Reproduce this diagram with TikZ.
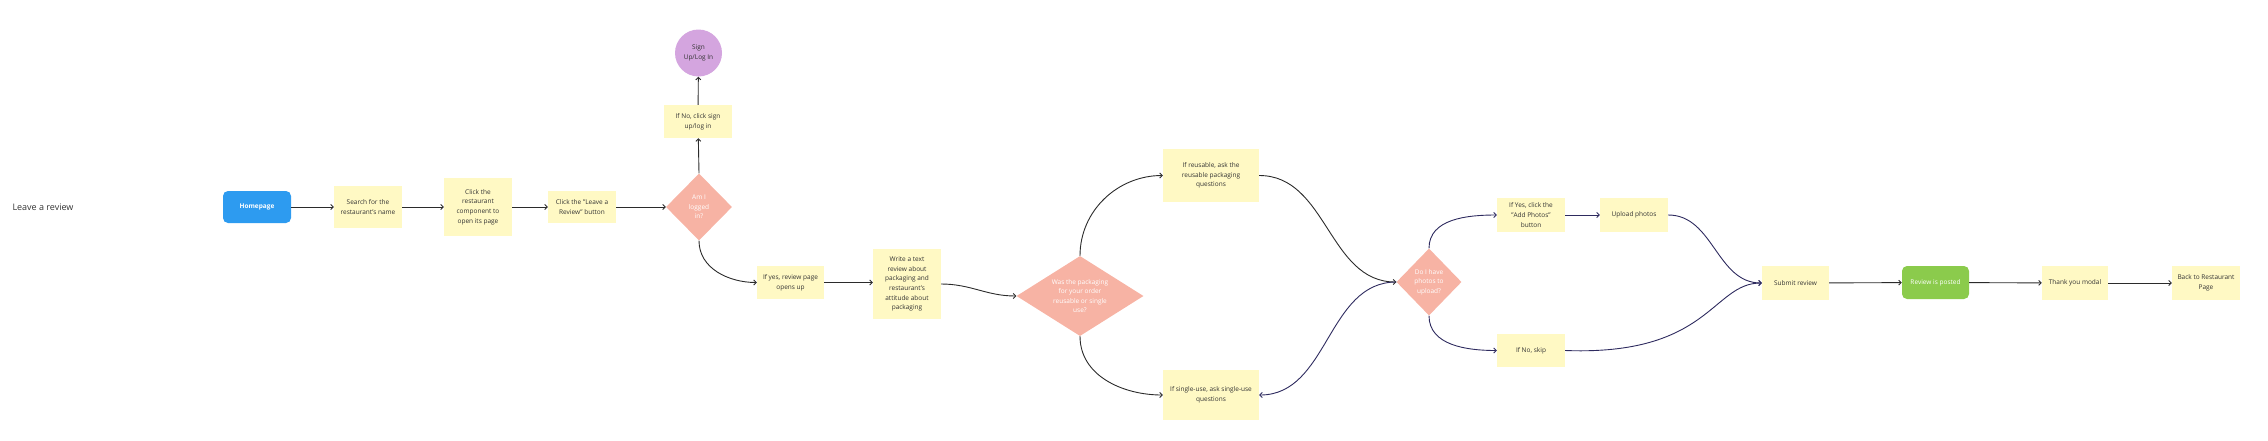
\documentclass[tikz,border=0pt]{standalone}
\usepackage{fontspec}
\setmainfont{Open Sans}
\usetikzlibrary{shapes.geometric,arrows.meta}
\definecolor{stickyc}{HTML}{FFF9C4}
\definecolor{salmon}{HTML}{F7B3A4}
\definecolor{purp}{HTML}{D4A5DF}
\definecolor{bluec}{HTML}{2D9BF0}
\definecolor{greenc}{HTML}{8BCB4C}
\definecolor{txt}{HTML}{333333}
\definecolor{linec}{HTML}{2B2B2B}
\definecolor{navyc}{HTML}{2E2B5F}
\tikzset{
  sticky/.style={rectangle, fill=stickyc, text=txt, minimum width=68pt, align=center,
    font=\fontsize{6.5}{9.6}\selectfont, inner sep=2pt},
  dia/.style={diamond, fill=salmon, inner sep=0pt},
  diatext/.style={text=white, align=center, font=\fontsize{6.5}{9.6}\selectfont, inner sep=0pt},
  pill/.style={rectangle, rounded corners=5pt, minimum width=68pt, minimum height=33pt, text=white, align=center},
  conn/.style={draw=linec, line width=0.9pt, -{Straight Barb[length=2.5pt,width=5pt]}},
  nconn/.style={conn, draw=navyc}
}
\begin{document}
\begin{tikzpicture}[x=1pt,y=1pt]
\useasboundingbox (0,0) rectangle (2268,-440);
\node[text=txt, font=\fontsize{9}{11}\selectfont] (title) at (43,-207) {Leave a review};
\node[pill, fill=bluec, minimum height=32pt, font=\fontsize{6.5}{9}\selectfont\bfseries] (home) at (257,-207) {Homepage};
\node[sticky, minimum height=42pt] (search) at (368,-207) {Search for the\\restaurant's name};
\node[sticky, minimum height=58pt] (click) at (478,-207) {Click the\\restaurant\\component to\\open its page};
\node[sticky, minimum height=32pt] (leave) at (582,-207) {Click the "Leave a\\Review" button};
\node[dia, minimum width=66pt, minimum height=67pt, label={[diatext]center:Am I\\logged\\in?}] (logged) at (699,-207) {};
\node[sticky, minimum height=33pt] (ifno) at (698,-121.5) {If No, click sign\\up/log in};
\node[circle, fill=purp, minimum size=47pt, inner sep=0pt, text=txt, align=center, font=\fontsize{6.5}{9.6}\selectfont] (sign) at (698.5,-53) {Sign\\Up/Log In};
\node[sticky, minimum width=67pt, minimum height=33pt] (ifyes) at (790.5,-282.5) {If yes, review page\\opens up};
\node[sticky, minimum height=70pt] (write) at (907,-284) {Write a text\\review about\\packaging and\\restaurant's\\attitude about\\packaging};
\node[dia, minimum width=127pt, minimum height=80pt, label={[diatext]center:Was the packaging\\for your order\\reusable or single\\use?}] (pack) at (1080,-296) {};
\node[sticky, minimum width=96pt, minimum height=53pt] (reuse) at (1211,-175.5) {If reusable, ask the\\reusable packaging\\questions};
\node[sticky, minimum width=96pt, minimum height=50pt] (single) at (1211,-395) {If single-use, ask single-use\\questions};
\node[dia, minimum width=65pt, minimum height=67pt, label={[diatext]center:Do I have\\photos to\\upload?}] (photos) at (1429,-282) {};
\node[sticky, minimum height=34pt] (addph) at (1531,-215) {If Yes, click the\\"Add Photos"\\button};
\node[sticky, minimum height=34pt] (upload) at (1634,-215) {Upload photos};
\node[sticky, minimum height=33pt] (skip) at (1531,-350.5) {If No, skip};
\node[sticky, minimum width=67pt, minimum height=34pt] (submit) at (1795.5,-283) {Submit review};
\node[pill, fill=greenc, minimum width=67pt, font=\fontsize{6.5}{9.6}\selectfont] (posted) at (1935.5,-282.5) {Review is posted};
\node[sticky, minimum width=66pt, minimum height=34pt] (thanks) at (2075,-283) {Thank you modal};
\node[sticky, minimum height=34pt] (back) at (2206,-283) {Back to Restaurant\\Page};

\draw[conn] (home) -- (search);
\draw[conn] (search) -- (click);
\draw[conn] (click) -- (leave);
\draw[conn] (leave) -- (logged);
\draw[conn] (logged.north) -- (ifno);
\draw[conn] (ifno) -- (sign);
\draw[conn] (logged.south) to[out=-90,in=180] (ifyes.west);
\draw[conn] (ifyes.east) -- (ifyes.east -| write.west);
\draw[conn] (write.east) to[out=0,in=180] (pack.west);
\draw[conn] (pack.north) to[out=90,in=180] (reuse.west);
\draw[conn] (pack.south) to[out=-90,in=180] (single.west);
\draw[conn] (reuse.east) to[out=0,in=180] (photos.west);
\draw[nconn] (photos.west) to[out=180,in=0] (single.east);
\draw[nconn] (photos.north) to[out=90,in=180] (addph.west);
\draw[nconn] (photos.south) to[out=-90,in=180] (skip.west);
\draw[nconn] (addph) -- (upload);
\draw[nconn] (upload.east) to[out=0,in=180] (submit.west);
\draw[nconn] (skip.east) .. controls (1710,-356) and (1712,-283) .. (submit.west);
\draw[conn] (submit) -- (posted);
\draw[conn] (posted) -- (thanks);
\draw[conn] (thanks) -- (back);
\end{tikzpicture}
\end{document}
